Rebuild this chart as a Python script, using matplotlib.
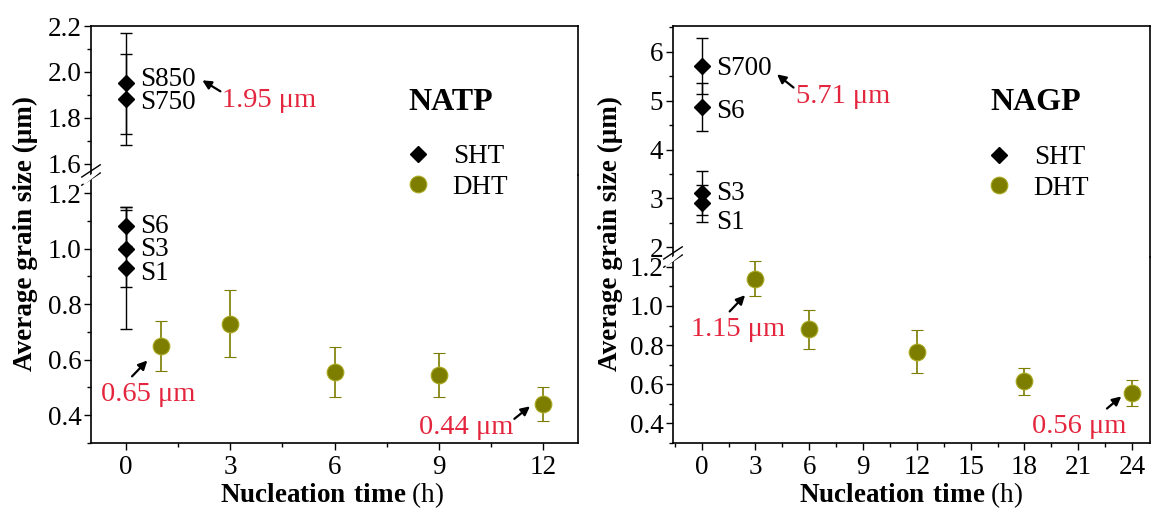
import matplotlib
matplotlib.use("Agg")
import matplotlib.pyplot as plt
from matplotlib.ticker import MultipleLocator
import numpy as np

plt.rcParams['font.family'] = ['Liberation Serif', 'DejaVu Serif']
plt.rcParams['mathtext.fontset'] = 'custom'
plt.rcParams['mathtext.rm'] = 'Liberation Serif'
plt.rcParams['mathtext.bf'] = 'Liberation Serif:bold'

# ---------------- data ----------------
# NATP
natp_sht_x = [0, 0, 0, 0, 0]
natp_sht_labels = ["S850", "S750", "S6", "S3", "S1"]
natp_sht_y = [1.95, 1.88, 1.08, 1.00, 0.93]
natp_sht_err = [0.22, 0.20, 0.07, 0.14, 0.22]
natp_dht_x = [1, 3, 6, 9, 12]
natp_dht_y = [0.65, 0.73, 0.555, 0.545, 0.44]
natp_dht_err = [0.09, 0.12, 0.09, 0.08, 0.06]

# NAGP
nagp_sht_x = [0, 0, 0, 0]
nagp_sht_labels = ["S700", "S6", "S3", "S1"]
nagp_sht_y = [5.71, 4.87, 3.12, 2.90]
nagp_sht_err = [0.57, 0.50, 0.45, 0.38]
nagp_dht_x = [3, 6, 12, 18, 24]
nagp_dht_y = [1.14, 0.88, 0.765, 0.615, 0.555]
nagp_dht_err = [0.09, 0.10, 0.11, 0.07, 0.065]

OLIVE = '#7d7d00'
RED = '#e3253d'
FS = 19.5
FS_ANN = 20.5
FS_TTL = 23

W, H = 1154, 509
fig = plt.figure(figsize=(W / 100, H / 100), dpi=100)


def fx(px):
    return px / W


def fy(py):
    return 1 - py / H


def make_panel(x0, x1, ytop, ybrk, ybot, up_lim, lo_lim, xlim, xmaj, up_maj, up_min):
    ax_up = fig.add_axes([fx(x0), fy(ybrk), fx(x1) - fx(x0), fy(ytop) - fy(ybrk)])
    ax_lo = fig.add_axes([fx(x0), fy(ybot), fx(x1) - fx(x0), fy(ybrk) - fy(ybot)])
    for ax in (ax_up, ax_lo):
        ax.set_xlim(*xlim)
        for s in ax.spines.values():
            s.set_linewidth(1.2)
        ax.tick_params(axis='both', which='both', direction='out', right=False, top=False,
                       labelsize=FS, width=1.0, pad=2)
        ax.tick_params(which='major', length=5)
        ax.tick_params(which='minor', length=3)
        ax.xaxis.set_major_locator(MultipleLocator(xmaj))
        ax.xaxis.set_minor_locator(MultipleLocator(xmaj / 2))
        ax.patch.set_alpha(0)
    ax_up.set_ylim(*up_lim)
    ax_lo.set_ylim(*lo_lim)
    ax_up.spines['bottom'].set_visible(False)
    ax_lo.spines['top'].set_visible(False)
    ax_up.tick_params(axis='x', which='both', bottom=False, labelbottom=False)
    ax_up.yaxis.set_major_locator(MultipleLocator(up_maj))
    ax_up.yaxis.set_minor_locator(MultipleLocator(up_min))
    ax_lo.yaxis.set_major_locator(MultipleLocator(0.2))
    ax_lo.yaxis.set_minor_locator(MultipleLocator(0.1))
    ax_lo.tick_params(axis='x', pad=4)
    # break marks on left spine
    yb = fy(ybrk)
    xb = fx(x0)
    for dy in (-0.008, 0.008):
        fig.add_artist(plt.Line2D([xb - 0.008, xb + 0.008], [yb + dy - 0.012, yb + dy + 0.012],
                                  color='k', lw=1.0, transform=fig.transFigure))
    fig.add_artist(plt.Polygon([[xb - 0.006, yb - 0.012], [xb + 0.006, yb + 0.01],
                                [xb + 0.006, yb + 0.004], [xb - 0.006, yb - 0.018]],
                               closed=True, color='white', transform=fig.transFigure, zorder=3))
    return ax_up, ax_lo


def plot_sht(ax_up, ax_lo, xs, ys, es, thresh):
    h = None
    for x, y, e in zip(xs, ys, es):
        ax = ax_up if y > thresh else ax_lo
        c = ax.errorbar([x], [y], yerr=[e], fmt='D', color='k', ms=8.5, capsize=4,
                        elinewidth=1.0, capthick=1.0, clip_on=False, zorder=5)
        h = c[0]
    return h


def plot_dht(ax, xs, ys, es):
    c = ax.errorbar(xs, ys, yerr=es, fmt='o', color=OLIVE, mfc=OLIVE, mec='#a8a820', ms=12,
                    mew=0.8, capsize=4, elinewidth=1.2, capthick=1.2, ecolor=OLIVE, ls='none',
                    zorder=5)
    return c[0]


def arrow(ax, tail, tip):
    ax.annotate('', xy=tip, xytext=tail,
                arrowprops=dict(arrowstyle='-|>', color='k', lw=1.6, mutation_scale=13,
                                shrinkA=0, shrinkB=0))


# ---------------- NATP ----------------
aU, aL = make_panel(91, 578, 26, 175, 443, (1.55, 2.2), (0.3, 1.265), (-1, 13), 3, 0.2, 0.1)
hS = plot_sht(aU, aL, natp_sht_x, natp_sht_y, natp_sht_err, 1.5)
hD = plot_dht(aL, natp_dht_x, natp_dht_y, natp_dht_err)
natp_lab_y = [1.968, 1.868, 1.078, 0.995, 0.91]
for lab, y in zip(natp_sht_labels, natp_lab_y):
    ax = aU if y > 1.5 else aL
    ax.text(0.4, y, lab, fontsize=FS, va='center', ha='left')
aU.text(2.78, 1.877, '1.95 μm', color=RED, fontsize=FS_ANN, va='center', ha='left')
arrow(aU, (2.72, 1.915), (2.2, 1.963))
aL.text(-0.7, 0.476, '0.65 μm', color=RED, fontsize=FS_ANN, va='center', ha='left')
arrow(aL, (0.18, 0.54), (0.62, 0.597))
aL.text(8.42, 0.357, '0.44 μm', color=RED, fontsize=FS_ANN, va='center', ha='left')
arrow(aL, (11.17, 0.387), (11.62, 0.432))
fig.text(fx(451), fy(103), 'NATP', fontsize=FS_TTL, fontweight='bold', ha='center', va='center')
fig.legend([hS, hD], ['SHT', 'DHT'], loc='center left', bbox_to_anchor=(fx(404), fy(172)),
           frameon=False, fontsize=FS, handlelength=1.0, handletextpad=0.8, labelspacing=0.2,
           borderpad=0, borderaxespad=0)
fig.text(fx(25), fy(234), 'Average grain size (μm)', rotation=90, fontsize=FS,
         fontweight='bold', ha='center', va='center')
fig.text(fx(332), fy(495), r'$\mathbf{Nucleation\ time}$ (h)', fontsize=FS, ha='center', va='center')

# ---------------- NAGP ----------------
bU, bL = make_panel(673, 1150, 26, 257, 443, (1.8, 6.53), (0.3, 1.25), (-1.6, 25), 3, 1, 0.5)
gS = plot_sht(bU, bL, nagp_sht_x, nagp_sht_y, nagp_sht_err, 1.5)
gD = plot_dht(bL, nagp_dht_x, nagp_dht_y, nagp_dht_err)
nagp_lab_y = [5.65, 4.78, 3.1, 2.5]
for lab, y in zip(nagp_sht_labels, nagp_lab_y):
    bU.text(0.78, y, lab, fontsize=FS, va='center', ha='left')
bU.text(5.25, 5.08, '5.71 μm', color=RED, fontsize=FS_ANN, va='center', ha='left')
arrow(bU, (5.12, 5.27), (4.2, 5.54))
bL.text(-0.62, 0.881, '1.15 μm', color=RED, fontsize=FS_ANN, va='center', ha='left')
arrow(bL, (1.56, 0.972), (2.42, 1.055))
bL.text(18.4, 0.385, '0.56 μm', color=RED, fontsize=FS_ANN, va='center', ha='left')
arrow(bL, (22.6, 0.476), (23.4, 0.538))
fig.text(fx(1036), fy(103), 'NAGP', fontsize=FS_TTL, fontweight='bold', ha='center', va='center')
fig.legend([gS, gD], ['SHT', 'DHT'], loc='center left', bbox_to_anchor=(fx(985), fy(173)),
           frameon=False, fontsize=FS, handlelength=1.0, handletextpad=0.8, labelspacing=0.2,
           borderpad=0, borderaxespad=0)
fig.text(fx(610), fy(234), 'Average grain size (μm)', rotation=90, fontsize=FS,
         fontweight='bold', ha='center', va='center')
fig.text(fx(911), fy(495), r'$\mathbf{Nucleation\ time}$ (h)', fontsize=FS, ha='center', va='center')

fig.savefig('out.png', dpi=100, facecolor='white')
